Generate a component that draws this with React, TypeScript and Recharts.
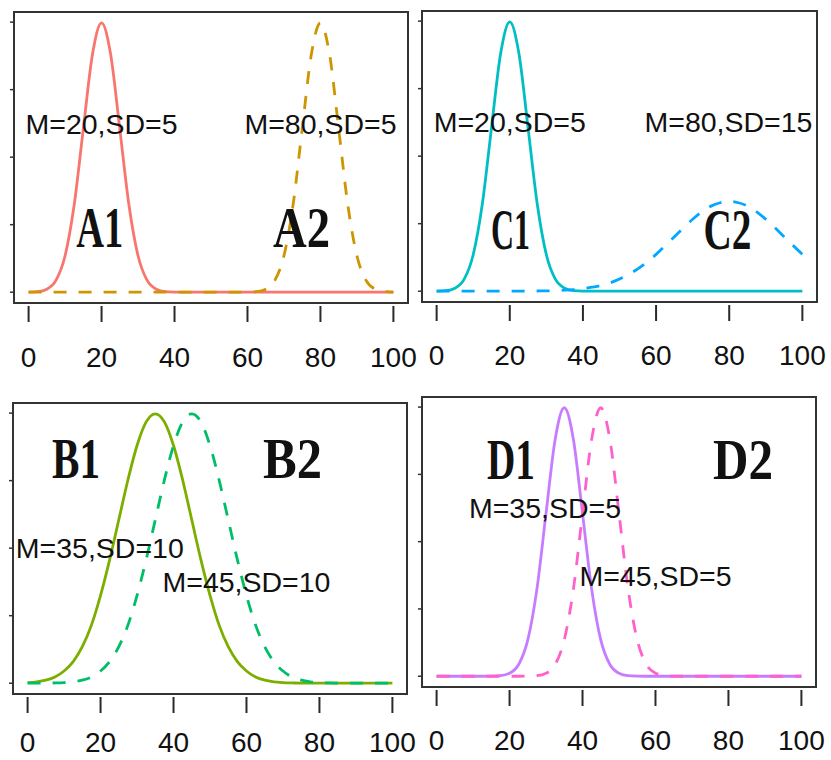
import React from 'react';
import { LineChart, Line, XAxis, YAxis, ReferenceArea, ReferenceDot } from 'recharts';

// x grid shared by every curve
const xValues = [
  0, 2.5, 5, 7.5, 10, 12.5, 15, 17.5, 20, 22.5, 25, 27.5, 30, 32.5, 35, 37.5, 40, 42.5, 45, 47.5,
  50, 52.5, 55, 57.5, 60, 62.5, 65, 67.5, 70, 72.5, 75, 77.5, 80, 82.5, 85, 87.5, 90, 92.5, 95, 97.5, 100,
];
const xTicks = [0, 20, 40, 60, 80, 100];

// A: M=20,SD=5 vs M=80,SD=5
const a1 = [
  0.00003, 0.00017, 0.00089, 0.0035, 0.0108, 0.0259, 0.0484, 0.0704, 0.0798, 0.0704, 0.0484, 0.0259,
  0.0108, 0.0035, 0.00089, 0.00017, 0.00003, 0, 0, 0, 0, 0, 0, 0, 0, 0, 0, 0, 0, 0, 0, 0, 0, 0, 0, 0,
  0, 0, 0, 0, 0,
];
const a2 = [
  0, 0, 0, 0, 0, 0, 0, 0, 0, 0, 0, 0, 0, 0, 0, 0, 0, 0, 0, 0, 0, 0, 0, 0, 0.00003, 0.00017, 0.00089,
  0.0035, 0.0108, 0.0259, 0.0484, 0.0704, 0.0798, 0.0704, 0.0484, 0.0259, 0.0108, 0.0035, 0.00089,
  0.00017, 0.00003,
];

// B: M=35,SD=10 vs M=45,SD=10
const b1 = [
  0.00009, 0.0002, 0.00044, 0.00091, 0.0018, 0.0032, 0.0054, 0.0086, 0.013, 0.0183, 0.0242, 0.0301,
  0.0352, 0.0387, 0.0399, 0.0387, 0.0352, 0.0301, 0.0242, 0.0183, 0.013, 0.0086, 0.0054, 0.0032,
  0.0018, 0.00091, 0.00044, 0.0002, 0.00009, 0.00004, 0.00001, 0, 0, 0, 0, 0, 0, 0, 0, 0, 0,
];
const b2 = [
  0, 0, 0.00001, 0.00004, 0.00009, 0.0002, 0.00044, 0.00091, 0.0018, 0.0032, 0.0054, 0.0086, 0.013,
  0.0183, 0.0242, 0.0301, 0.0352, 0.0387, 0.0399, 0.0387, 0.0352, 0.0301, 0.0242, 0.0183, 0.013,
  0.0086, 0.0054, 0.0032, 0.0018, 0.00091, 0.00044, 0.0002, 0.00009, 0.00004, 0.00001, 0, 0, 0, 0, 0, 0,
];

// C: M=20,SD=5 vs M=80,SD=15
const c1 = [
  0.00003, 0.00017, 0.00089, 0.0035, 0.0108, 0.0259, 0.0484, 0.0704, 0.0798, 0.0704, 0.0484, 0.0259,
  0.0108, 0.0035, 0.00089, 0.00017, 0.00003, 0, 0, 0, 0, 0, 0, 0, 0, 0, 0, 0, 0, 0, 0, 0, 0, 0, 0, 0,
  0, 0, 0, 0, 0,
];
const c2 = [
  0, 0, 0, 0, 0, 0, 0, 0, 0.00001, 0.00002, 0.00003, 0.00006, 0.0001, 0.00018, 0.0003, 0.00048,
  0.00076, 0.0012, 0.0017, 0.0025, 0.0036, 0.005, 0.0066, 0.0086, 0.0109, 0.0135, 0.0161, 0.0188,
  0.0213, 0.0235, 0.0252, 0.0262, 0.0266, 0.0262, 0.0252, 0.0235, 0.0213, 0.0188, 0.0161, 0.0135, 0.0109,
];

// D: M=35,SD=5 vs M=45,SD=5
const d1 = [
  0, 0, 0, 0, 0, 0, 0.00003, 0.00017, 0.00089, 0.0035, 0.0108, 0.0259, 0.0484, 0.0704, 0.0798, 0.0704,
  0.0484, 0.0259, 0.0108, 0.0035, 0.00089, 0.00017, 0.00003, 0, 0, 0, 0, 0, 0, 0, 0, 0, 0, 0, 0, 0, 0,
  0, 0, 0, 0,
];
const d2 = [
  0, 0, 0, 0, 0, 0, 0, 0, 0, 0, 0.00003, 0.00017, 0.00089, 0.0035, 0.0108, 0.0259, 0.0484, 0.0704,
  0.0798, 0.0704, 0.0484, 0.0259, 0.0108, 0.0035, 0.00089, 0.00017, 0.00003, 0, 0, 0, 0, 0, 0, 0, 0, 0,
  0, 0, 0, 0, 0,
];

const narrowTicks = [0, 0.02, 0.04, 0.06, 0.08];
const wideTicks = [0, 0.01, 0.02, 0.03, 0.04];

const SANS = '"Liberation Sans", Arial, sans-serif';
const SERIF = '"Liberation Serif", "DejaVu Serif", serif';
const X_DOMAIN = [-4, 104];

type Note = { x: number; y: number; text: string };
type Tag = { x: number; y: number; text: string; w: number };

interface PanelProps {
  left: number;
  top: number;
  w: number;
  h: number;
  solid: number[];
  dashed: number[];
  solidColor: string;
  dashColor: string;
  yDomain: number[];
  yTicks: number[];
  notes: Note[];
  tags: Tag[];
  labelGap: number;
}

const Panel: React.FC<PanelProps> = ({
  left, top, w, h, solid, dashed, solidColor, dashColor, yDomain, yTicks, notes, tags, labelGap,
}) => {
  const data = xValues.map((x, i) => ({ x, s: solid[i], d: dashed[i] }));

  const xTick = (p: any) => (
    <g>
      <line x1={p.x} x2={p.x} y1={p.y + 3} y2={p.y + 19} stroke="#2a2a2a" strokeWidth={2} />
      <text x={p.x} y={p.y + labelGap} textAnchor="middle" fontSize={28} fontFamily={SANS} fill="#111">
        {p.payload.value}
      </text>
    </g>
  );
  const yTick = (p: any) => (
    <line x1={p.x - 4} x2={p.x} y1={p.y} y2={p.y} stroke="#333" strokeWidth={1.5} />
  );

  return (
    <div style={{ position: 'absolute', left: left - 14, top: top - 12 }}>
      <LineChart width={w + 28} height={h + 12 + 80} data={data} margin={{ top: 12, right: 14, bottom: 0, left: 0 }}>
        <XAxis
          dataKey="x"
          type="number"
          domain={X_DOMAIN}
          ticks={xTicks}
          height={80}
          axisLine={false}
          tickLine={false}
          tickSize={0}
          tickMargin={0}
          tick={xTick}
        />
        <YAxis
          type="number"
          domain={yDomain}
          ticks={yTicks}
          width={14}
          axisLine={false}
          tickLine={false}
          tickSize={0}
          tickMargin={0}
          tick={yTick}
        />
        <Line type="monotone" dataKey="s" stroke={solidColor} strokeWidth={2.8} dot={false} isAnimationActive={false} />
        <Line
          type="monotone"
          dataKey="d"
          stroke={dashColor}
          strokeWidth={2.8}
          strokeDasharray="13 12"
          dot={false}
          isAnimationActive={false}
        />
        {notes.map((n) => (
          <ReferenceDot
            key={n.text}
            x={n.x}
            y={n.y}
            r={0}
            ifOverflow="visible"
            shape={(p: any) => (
              <text x={p.cx} y={p.cy} textAnchor="middle" dominantBaseline="central" fontSize={28.5} fontFamily={SANS} fill="#111">
                {n.text}
              </text>
            )}
          />
        ))}
        {tags.map((t) => (
          <ReferenceDot
            key={t.text}
            x={t.x}
            y={t.y}
            r={0}
            ifOverflow="visible"
            shape={(p: any) => (
              <text
                x={p.cx - t.w / 2}
                y={p.cy + 19}
                fontSize={56}
                fontWeight="bold"
                fontFamily={SERIF}
                fill="#111"
                textLength={t.w}
                lengthAdjust="spacingAndGlyphs"
              >
                {t.text}
              </text>
            )}
          />
        ))}
        <ReferenceArea
          x1={X_DOMAIN[0]}
          x2={X_DOMAIN[1]}
          y1={yDomain[0]}
          y2={yDomain[1]}
          fill="none"
          fillOpacity={0}
          stroke="#333"
          strokeWidth={2}
          ifOverflow="visible"
        />
      </LineChart>
    </div>
  );
};

export default function App() {
  const narrowDomain = [-0.0032, 0.083];
  const wideDomain = [-0.0016, 0.0415];
  return (
    <div style={{ position: 'absolute', left: 0, top: 0, width: 831, height: 760, background: '#fff', overflow: 'hidden' }}>
      <Panel
        left={14} top={12} w={394} h={291}
        solid={a1} dashed={a2} solidColor="#F8766D" dashColor="#CD9600"
        yDomain={narrowDomain} yTicks={narrowTicks} labelGap={64}
        notes={[{ x: 20, y: 0.0498, text: 'M=20,SD=5' }, { x: 80, y: 0.0498, text: 'M=80,SD=5' }]}
        tags={[{ x: 19.5, y: 0.019, text: 'A1', w: 47 }, { x: 74.8, y: 0.019, text: 'A2', w: 57 }]}
      />
      <Panel
        left={422} top={11} w={395} h={291}
        solid={c1} dashed={c2} solidColor="#00BFC4" dashColor="#00A9FF"
        yDomain={narrowDomain} yTicks={narrowTicks} labelGap={63}
        notes={[{ x: 20, y: 0.05, text: 'M=20,SD=5' }, { x: 79.8, y: 0.05, text: 'M=80,SD=15' }]}
        tags={[{ x: 20.2, y: 0.018, text: 'C1', w: 39 }, { x: 79.5, y: 0.018, text: 'C2', w: 48 }]}
      />
      <Panel
        left={13} top={403} w={394} h={291}
        solid={b1} dashed={b2} solidColor="#7CAE00" dashColor="#00BE67"
        yDomain={wideDomain} yTicks={wideTicks} labelGap={58}
        notes={[{ x: 19.8, y: 0.02, text: 'M=35,SD=10' }, { x: 60, y: 0.015, text: 'M=45,SD=10' }]}
        tags={[{ x: 13.3, y: 0.0332, text: 'B1', w: 48 }, { x: 72.6, y: 0.0332, text: 'B2', w: 59 }]}
      />
      <Panel
        left={422} top={397} w={394} h={290}
        solid={d1} dashed={d2} solidColor="#C77CFF" dashColor="#FF61CC"
        yDomain={narrowDomain} yTicks={narrowTicks} labelGap={63}
        notes={[{ x: 29.7, y: 0.05, text: 'M=35,SD=5' }, { x: 60, y: 0.0297, text: 'M=45,SD=5' }]}
        tags={[{ x: 20.4, y: 0.0643, text: 'D1', w: 48 }, { x: 84, y: 0.0643, text: 'D2', w: 60 }]}
      />
    </div>
  );
}
